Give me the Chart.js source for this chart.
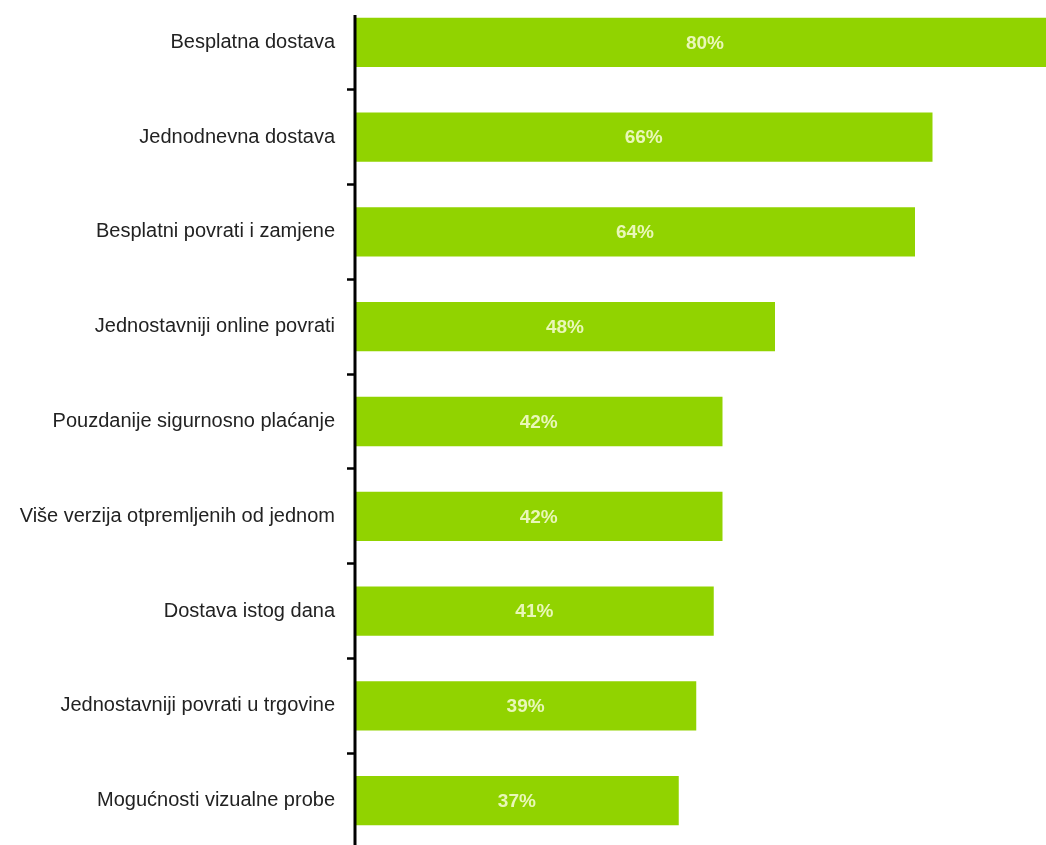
<!DOCTYPE html>
<html>
<head>
<meta charset="utf-8">
<script src="https://cdn.jsdelivr.net/npm/chart.js@4.4.1/dist/chart.umd.min.js"></script>
<style>
  html, body { margin: 0; padding: 0; background: #ffffff; overflow: hidden; width: 1046px; height: 845px; }
  #wrap { position: absolute; left: 0; top: -5px; width: 1055px; height: 853px; }
</style>
</head>
<body>
<div id="wrap"><canvas id="c"></canvas></div>
<script>
const categories = [
  "Besplatna dostava",
  "Jednodnevna dostava",
  "Besplatni povrati i zamjene",
  "Jednostavniji online povrati",
  "Pouzdanije sigurnosno plaćanje",
  "Više verzija otpremljenih od jednom",
  "Dostava istog dana",
  "Jednostavniji povrati u trgovine",
  "Mogućnosti vizualne probe"
];
const values = [80, 66, 64, 48, 42, 42, 41, 39, 37];
const valueLabels = ["80%", "66%", "64%", "48%", "42%", "42%", "41%", "39%", "37%"];

const barLabelPlugin = {
  id: 'barLabels',
  afterDatasetsDraw(chart) {
    const ctx = chart.ctx;
    const meta = chart.getDatasetMeta(0);
    ctx.save();
    ctx.font = 'bold 19px "Liberation Sans", Arial, sans-serif';
    ctx.fillStyle = '#e9f7b8';
    ctx.textAlign = 'center';
    ctx.textBaseline = 'middle';
    meta.data.forEach((bar, i) => {
      const p = bar.getProps(['x', 'y', 'base'], true);
      ctx.fillText(valueLabels[i], (p.x + p.base) / 2, p.y + 1);
    });
    ctx.restore();
  },
  afterDraw(chart) {
    const ctx = chart.ctx;
    const ca = chart.chartArea;
    ctx.save();
    ctx.strokeStyle = '#000000';
    ctx.lineWidth = 3;
    ctx.beginPath();
    ctx.moveTo(ca.left, 20);
    ctx.lineTo(ca.left, chart.height);
    ctx.stroke();
    ctx.restore();
  }
};

new Chart(document.getElementById('c'), {
  type: 'bar',
  data: {
    labels: categories,
    datasets: [{
      data: values,
      backgroundColor: '#91d300',
      borderWidth: 0,
      categoryPercentage: 1,
      barPercentage: 0.52
    }]
  },
  options: {
    indexAxis: 'y',
    responsive: true,
    maintainAspectRatio: false,
    animation: false,
    layout: { padding: 0 },
    plugins: { legend: { display: false }, tooltip: { enabled: false } },
    scales: {
      x: { display: false, min: 0, max: 80 },
      y: {
        afterFit(scale) {
          scale.width = 355;
          scale.paddingTop = 0;
          scale.paddingBottom = 0;
        },
        border: { display: false },
        grid: {
          offset: true,
          drawOnChartArea: false,
          drawTicks: true,
          tickLength: 8,
          tickWidth: 2.5,
          color: '#000000'
        },
        ticks: {
          padding: 12,
          color: '#222222',
          font: { family: '"Liberation Sans", Arial, sans-serif', size: 20 }
        }
      }
    }
  },
  plugins: [barLabelPlugin]
});
</script>
</body>
</html>
